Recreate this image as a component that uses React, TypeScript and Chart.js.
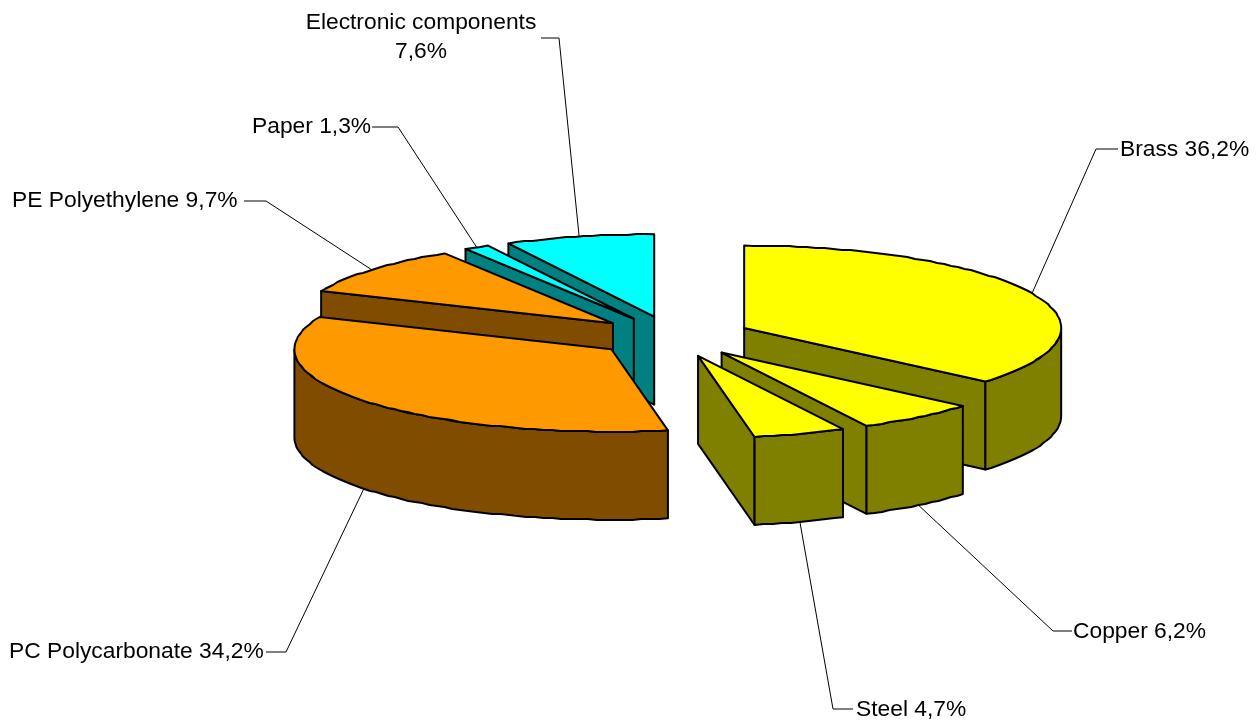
import React, { useEffect, useRef } from "react";
import { Chart, registerables } from "chart.js";

Chart.register(...registerables);

const categories = ["Brass", "Copper", "Steel", "PC Polycarbonate", "PE Polyethylene", "Paper", "Electronic components"];
const shares = [36.2, 6.2, 4.7, 34.2, 9.7, 1.3, 7.6];
const topColors = ["#FFFF00", "#FFFF00", "#FFFF00", "#FF9900", "#FF9900", "#00FFFF", "#00FFFF"];
const sideColors = ["#808000", "#808000", "#808000", "#804D00", "#804D00", "#008080", "#008080"];

const pieRadius = 317;
const tilt = 0.26;
const explode = 78.6;
const depth = 88;
const fontCss = '22.8px "Liberation Sans", Arial, sans-serif';

// label placement: text x, text y (centre), leader elbow x/y, leader start x
const labelX = [1120, 1073, 856, 9, 12, 252, 421];
const labelY = [150, 632, 710, 652, 201, 127, 37];
const elbowX = [1096, 1053, 833, 286, 266, 398, 559];
const elbowY = [149, 631, 709, 652, 201, 127, 38];
const leaderEndX = [1118, 1072, 853, 266, 244, 372, 541];

function wavy(cx: number, cy: number, a0: number, a1: number) {
  const n = Math.max(1, Math.round((Math.abs(a1 - a0) * pieRadius) / 9));
  const pts: [number, number][] = [];
  for (let i = 0; i <= n; i++) {
    const a = a0 + ((a1 - a0) * i) / n;
    const x = cx + pieRadius * Math.cos(a);
    const y = cy + pieRadius * tilt * Math.sin(a);
    const end = i === 0 || i === n;
    pts.push(end ? [x, y] : [x, Math.round(y)]);
  }
  return pts;
}

const pie3d = {
  id: "pie3d",
  beforeDatasetsDraw(chart: any) {
    const ctx: CanvasRenderingContext2D = chart.ctx;
    const arcs: any[] = chart.getDatasetMeta(0).data;
    const order = arcs
      .map((_, i) => i)
      .sort((p, q) => Math.sin((arcs[p].startAngle + arcs[p].endAngle) / 2) - Math.sin((arcs[q].startAngle + arcs[q].endAngle) / 2));
    ctx.save();
    ctx.lineWidth = 2;
    ctx.lineJoin = "round";
    ctx.strokeStyle = "#000";
    for (const i of order) {
      const el = arcs[i];
      const s = el.startAngle;
      const e = el.endAngle;
      const mid = (s + e) / 2;
      const cx = el.x + explode * Math.cos(mid);
      const cy = el.y + explode * tilt * Math.sin(mid);
      const rim = wavy(cx, cy, s, e);
      const wall = (a: number) => {
        const x = cx + pieRadius * Math.cos(a);
        const y = cy + pieRadius * tilt * Math.sin(a);
        ctx.beginPath();
        ctx.moveTo(cx, cy);
        ctx.lineTo(x, y);
        ctx.lineTo(x, y + depth);
        ctx.lineTo(cx, cy + depth);
        ctx.closePath();
        ctx.fillStyle = sideColors[i];
        ctx.fill();
        ctx.stroke();
      };
      if (Math.cos(s) < 0) wall(s);
      if (Math.cos(e) > 0) wall(e);
      const a0 = Math.max(s, 0);
      const a1 = Math.min(e, Math.PI);
      if (a1 > a0) {
        const top = wavy(cx, cy, a0, a1);
        ctx.beginPath();
        top.forEach(([x, y], k) => (k ? ctx.lineTo(x, y) : ctx.moveTo(x, y)));
        [...top].reverse().forEach(([x, y]) => ctx.lineTo(x, y + depth));
        ctx.closePath();
        ctx.fillStyle = sideColors[i];
        ctx.fill();
        ctx.stroke();
      }
      ctx.save();
      ctx.translate(cx, cy);
      ctx.scale(1, tilt);
      ctx.translate(-el.x, -el.y);
      el.draw(ctx);
      ctx.restore();
      ctx.beginPath();
      ctx.moveTo(cx, cy);
      rim.forEach(([x, y]) => ctx.lineTo(x, y));
      ctx.closePath();
      ctx.stroke();
    }
    ctx.restore();
    return false;
  },
  afterDraw(chart: any) {
    const ctx: CanvasRenderingContext2D = chart.ctx;
    const arcs: any[] = chart.getDatasetMeta(0).data;
    ctx.save();
    ctx.lineWidth = 1;
    ctx.strokeStyle = "#000";
    ctx.fillStyle = "#000";
    ctx.font = fontCss;
    ctx.textBaseline = "middle";
    arcs.forEach((el, i) => {
      const mid = (el.startAngle + el.endAngle) / 2;
      const cx = el.x + explode * Math.cos(mid);
      const cy = el.y + explode * tilt * Math.sin(mid);
      const ax = cx + pieRadius * Math.cos(mid);
      const ay = cy + pieRadius * tilt * Math.sin(mid) + (Math.sin(mid) > 0 ? depth : 0);
      ctx.beginPath();
      ctx.moveTo(ax, ay);
      ctx.lineTo(elbowX[i], elbowY[i]);
      ctx.lineTo(leaderEndX[i], elbowY[i]);
      ctx.stroke();
      const pct = shares[i].toFixed(1).replace(".", ",") + "%";
      if (categories[i] === "Electronic components") {
        ctx.textAlign = "center";
        ctx.fillText(categories[i], labelX[i], 23);
        ctx.fillText(pct, labelX[i], 52);
      } else {
        ctx.textAlign = "left";
        ctx.fillText(`${categories[i]} ${pct}`, labelX[i], labelY[i]);
      }
    });
    ctx.restore();
  },
};

export default function App() {
  const ref = useRef<HTMLCanvasElement>(null);
  useEffect(() => {
    const chart = new Chart(ref.current!, {
      type: "pie",
      data: {
        labels: categories,
        datasets: [{ data: shares, backgroundColor: topColors, borderWidth: 0 }],
      },
      options: {
        animation: false,
        responsive: false,
        radius: pieRadius,
        layout: { padding: { left: 85.6, right: 0, top: 0, bottom: 47 } },
        events: [],
        plugins: { legend: { display: false }, tooltip: { enabled: false } },
      } as any,
      plugins: [pie3d as any],
    });
    return () => chart.destroy();
  }, []);
  return (
    <canvas
      ref={ref}
      width={1260}
      height={720}
      style={{ position: "absolute", left: 0, top: 0, width: 1260, height: 720, background: "#fff" }}
    />
  );
}
